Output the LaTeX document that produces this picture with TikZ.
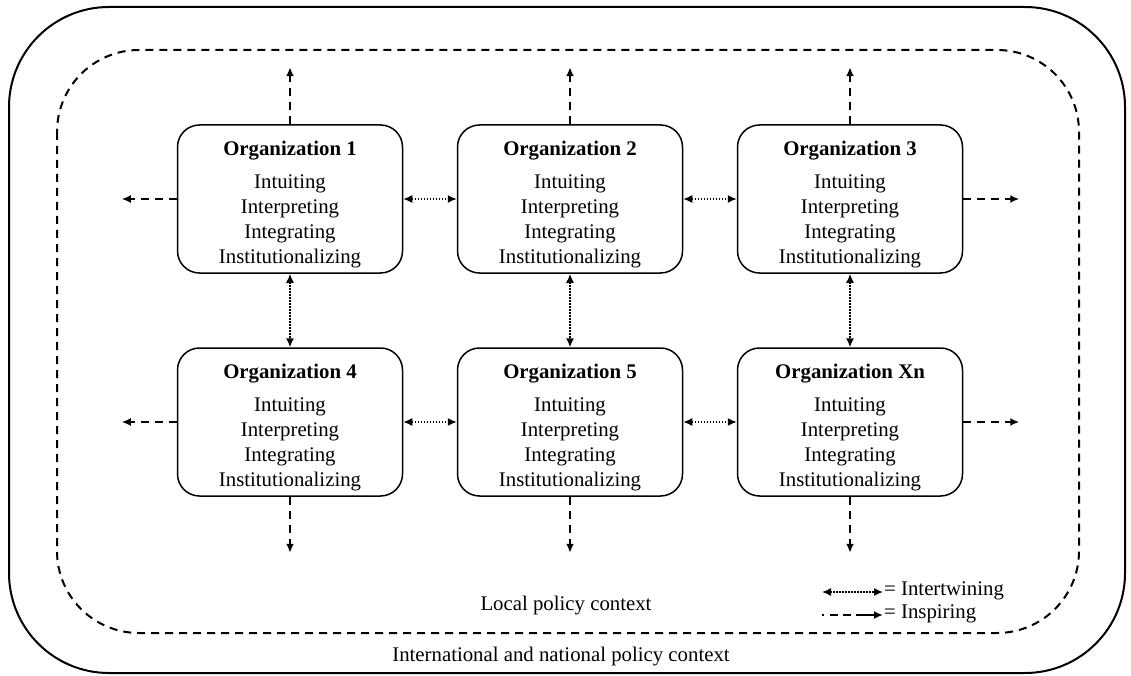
\documentclass[tikz,border=0pt]{standalone}
\usepackage{fontspec}
\setmainfont{Liberation Serif}
\usetikzlibrary{arrows.meta}
\begin{document}
\begin{tikzpicture}[x=1pt,y=-1pt,
  orgbox/.style={draw, line width=1.5pt, rounded corners=22pt, minimum width=225pt, minimum height=148pt, inner sep=0pt},
  orgtext/.style={align=center, inner sep=0pt, font=\fontsize{20.8}{25}\selectfont},
  lbl/.style={inner sep=1pt, font=\fontsize{20.8}{25}\selectfont},
  tipa/.tip={Latex[length=9pt,width=8pt]},
  insp/.style={line width=1.8pt, dash pattern=on 8pt off 6pt, -tipa},
  inter/.style={line width=1.5pt, dash pattern=on 1.5pt off 1.5pt, tipa-tipa},
  outerframe/.style={line width=2pt, rounded corners=100pt},
  innerframe/.style={line width=2pt, dash pattern=on 8pt off 6pt, rounded corners=82pt}]
\useasboundingbox (0,0) rectangle (1131,676);
\draw[outerframe] (9,7) rectangle (1125,673);
\draw[innerframe] (57,50) rectangle (1079,633);
\foreach \n/\x/\y/\t in {o1/290/199/1, o2/570/199/2, o3/850/199/3, o4/290/422/4, o5/570/422/5, o6/850/422/Xn} {
  \node[orgbox] (\n) at (\x,\y) {};
  \node[orgtext] (\n-t) at ([yshift=-6pt]\n.center) {\textbf{Organization \t}\\[8pt]Intuiting\\Interpreting\\Integrating\\Institutionalizing};
}
% free ends of inspiring arrows
\foreach \n in {o1,o2,o3} {\coordinate (\n-up) at ([yshift=57pt]\n.north);}
\foreach \n in {o4,o5,o6} {\coordinate (\n-down) at ([yshift=-56pt]\n.south);}
\foreach \n in {o1,o4} {\coordinate (\n-left) at ([xshift=-55pt]\n.west);}
\foreach \n in {o3,o6} {\coordinate (\n-right) at ([xshift=56pt]\n.east);}
\foreach \n in {o1,o2,o3} {\draw[insp] (\n.north) -- (\n-up);}
\foreach \n in {o4,o5,o6} {\draw[insp] (\n.south) -- (\n-down);}
\foreach \n in {o1,o4} {\draw[insp] (\n.west) -- (\n-left);}
\foreach \n in {o3,o6} {\draw[insp] (\n.east) -- (\n-right);}
% intertwining
\draw[inter] (o1.east) -- (o2.west);
\draw[inter] (o2.east) -- (o3.west);
\draw[inter] (o4.east) -- (o5.west);
\draw[inter] (o5.east) -- (o6.west);
\draw[inter] (o1.south) -- (o4.north);
\draw[inter] (o2.south) -- (o5.north);
\draw[inter] (o3.south) -- (o6.north);
% labels
\node[lbl] (local) at (566,606) {Local policy context};
\node[lbl] (intl) at (561,657) {International and national policy context};
% legend
\node[lbl, anchor=west] (leg1) at (883,591) {= Intertwining};
\node[lbl, anchor=west] (leg2) at (883,614) {= Inspiring};
\coordinate (l1a) at (822,592);
\coordinate (l2a) at (822,615);
\draw[inter] (l1a) -- (leg1.west |- l1a);
\draw[insp, dash pattern=on 1.5pt off 6pt on 8pt off 5pt on 8pt off 5pt on 20pt] (l2a) -- (leg2.west |- l2a);
\end{tikzpicture}
\end{document}
